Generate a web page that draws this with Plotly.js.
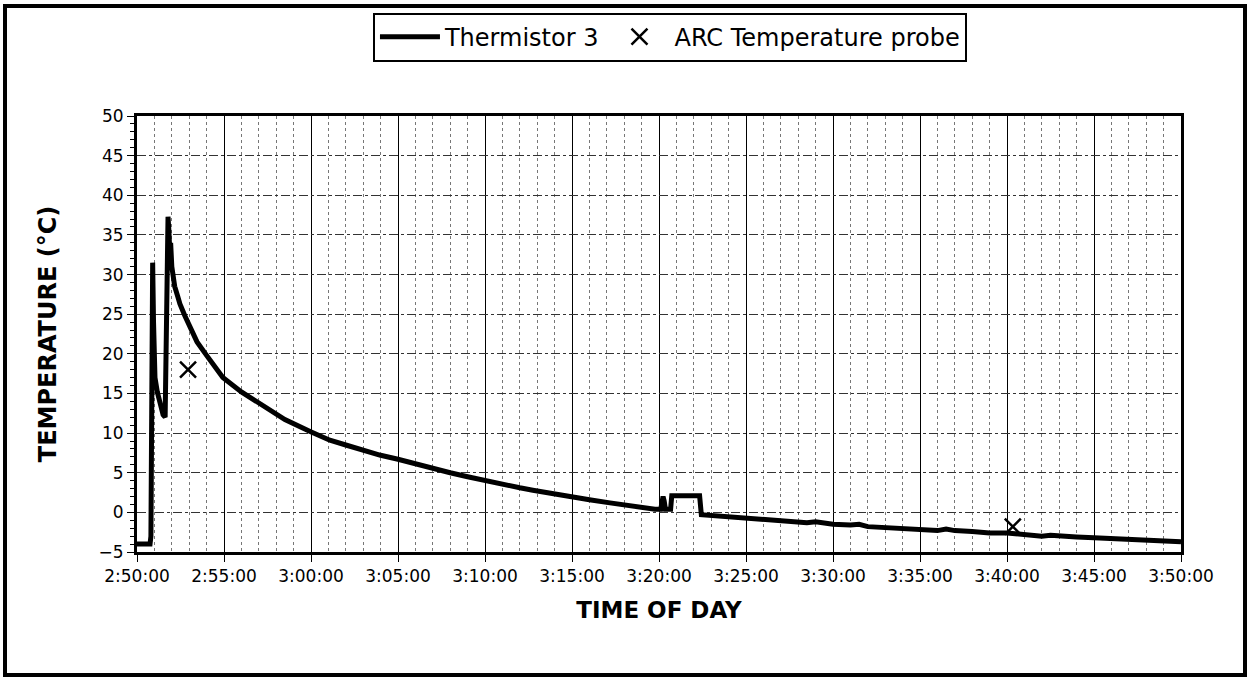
<!DOCTYPE html>
<html>
<head>
<meta charset="utf-8">
<script src="https://cdn.plot.ly/plotly-3.0.1.min.js"></script>
<style>
  html, body { margin: 0; padding: 0; background: #fff; }
  #wrap { position: relative; width: 1248px; height: 677px; }
  #chart { width: 1248px; height: 677px; }
  #frame { position: absolute; left: 3px; top: 4px; width: 1236px; height: 665px;
           border: 4px solid #000; pointer-events: none; }
</style>
</head>
<body>
<div id="wrap">
  <div id="chart"></div>
  <div id="frame"></div>
</div>
<script>
// Thermistor 3 readings (time of day, °C)
const thermTimes = [
  "02:50:00","02:50:45","02:50:48","02:50:51","02:50:54","02:50:57","02:51:02","02:51:10",
  "02:51:20","02:51:30","02:51:37","02:51:42","02:51:47","02:51:50","02:51:53","02:51:56",
  "02:52:00","02:52:10","02:52:20","02:52:28","02:52:45","02:53:00","02:53:27","02:54:00",
  "02:54:30","02:54:56","02:56:00","02:57:14","02:58:30","02:59:57","03:01:05","03:02:00",
  "03:03:00","03:04:00","03:05:00","03:06:00","03:07:00","03:08:00","03:09:00","03:10:00",
  "03:10:52","03:12:00","03:12:45","03:14:00","03:15:00","03:16:00","03:17:11","03:18:00",
  "03:19:00","03:19:46","03:20:06","03:20:10","03:20:14","03:20:18","03:20:22","03:20:40",
  "03:20:44","03:21:30","03:22:20","03:22:26","03:23:00","03:24:00","03:25:00","03:25:30",
  "03:26:00","03:27:00","03:28:00","03:28:30","03:29:00","03:29:30","03:30:00","03:31:00",
  "03:31:30","03:32:00","03:33:00","03:33:30","03:34:00","03:35:00","03:36:00","03:36:30",
  "03:37:00","03:38:00","03:39:00","03:40:00","03:41:00","03:42:00","03:42:30","03:43:00",
  "03:44:00","03:45:00","03:46:00","03:47:00","03:48:00","03:49:00","03:50:00"
];
const thermTemps = [
  -4.0,-4.0,-3.0,12.0,31.5,24.0,17.0,15.2,
  13.5,12.3,12.0,26.0,37.3,35.5,33.0,34.0,
  31.0,28.5,27.3,26.3,24.8,23.5,21.5,19.8,
  18.3,17.0,15.2,13.4,11.7,10.2,9.1,8.5,
  7.8,7.2,6.7,6.1,5.6,5.0,4.5,4.0,
  3.6,3.1,2.8,2.3,2.0,1.6,1.2,0.9,
  0.6,0.4,0.4,1.2,2.0,1.4,0.4,0.4,
  2.1,2.1,2.1,-0.3,-0.4,-0.5,-0.6,-0.7,
  -0.8,-1.0,-1.2,-1.3,-1.2,-1.4,-1.5,-1.6,
  -1.5,-1.8,-1.9,-2.1,-2.0,-2.2,-2.3,-2.1,
  -2.3,-2.4,-2.6,-2.6,-2.8,-3.0,-2.9,-3.0,
  -3.1,-3.2,-3.3,-3.5,-3.5,-3.6,-3.7
];
// ARC Temperature probe readings
const arcTimes = ["02:52:56","03:40:20"];
const arcTemps = [18.0,-1.8];

const day = "2000-01-01 ";
const fontTick = "DejaVu Sans, Arial, sans-serif";

const traces = [
  {
    x: thermTimes.map(t => day + t), y: thermTemps,
    type: "scatter", mode: "lines", name: "Thermistor 3",
    line: {color: "#000", width: 5}
  },
  {
    x: arcTimes.map(t => day + t), y: arcTemps,
    type: "scatter", mode: "markers", name: "ARC Temperature probe",
    marker: {symbol: "x-thin-open", size: 16, color: "#000", line: {color: "#000", width: 2.5}}
  }
];

const layout = {
  width: 1248, height: 677,
  margin: {l: 137, r: 67, t: 116, b: 125},
  paper_bgcolor: "#fff", plot_bgcolor: "#fff",
  showlegend: true,
  legend: {
    orientation: "h", x: 0.5105, xanchor: "center", y: 1.181, yanchor: "middle",
    bordercolor: "#000", borderwidth: 2, bgcolor: "#fff",
    font: {family: fontTick, size: 24, color: "#000"},
    itemwidth: 60
  },
  xaxis: {
    type: "date",
    range: [day + "02:50:00", day + "03:50:00"],
    tick0: day + "02:50:00", dtick: 300000,
    tickformat: "%-H:%M:%S",
    ticks: "outside", ticklen: 7, tickwidth: 1, tickcolor: "#000",
    showline: true, linewidth: 3, linecolor: "#000", mirror: true,
    showgrid: true, gridcolor: "#000", gridwidth: 1,
    minor: {dtick: 60000, showgrid: true, gridcolor: "#777", gridwidth: 1, griddash: "dot"},
    tickfont: {family: fontTick, size: 17, color: "#000"},
    title: {text: "<b>TIME OF DAY</b>", font: {family: fontTick, size: 23, color: "#000"}, standoff: 17},
    zeroline: false
  },
  yaxis: {
    range: [-5, 50], dtick: 5, tick0: 0,
    ticks: "outside", ticklen: 7, tickwidth: 1, tickcolor: "#000",
    showline: true, linewidth: 3, linecolor: "#000", mirror: true,
    showgrid: true, gridcolor: "#333", gridwidth: 1, griddash: "dashdot",
    minor: {dtick: 1, ticks: "outside", ticklen: 4, tickcolor: "#000", showgrid: false},
    tickfont: {family: fontTick, size: 17, color: "#000"},
    title: {text: "<b>TEMPERATURE (°C)</b>", font: {family: fontTick, size: 24, color: "#000"}, standoff: 36},
    zeroline: false
  }
};

Plotly.newPlot("chart", traces, layout, {displayModeBar: false, staticPlot: true});
</script>
</body>
</html>
